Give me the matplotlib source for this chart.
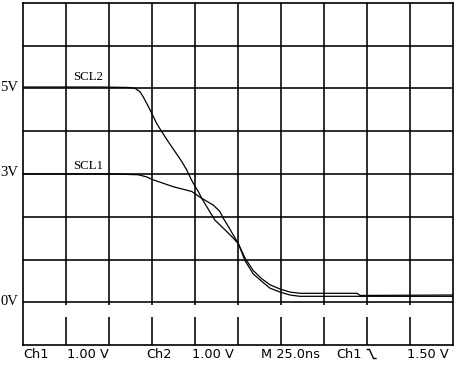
import matplotlib
matplotlib.use("Agg")
import matplotlib.pyplot as plt
from matplotlib.lines import Line2D

# ---- data (time in ns, voltage in V) ----
scl2_t = [0, 44.8, 61.0, 65.1, 68.0, 69.9, 71.9, 74.8, 77.7, 80.6, 84.5, 88.4, 92.3,
          95.2, 97.1, 99.0, 101.9, 103.9, 108.7, 111.6, 116.5, 121.3, 125.2, 129.1,
          133.9, 138.8, 143.6, 149.4, 155.2, 161.0, 194.2, 196.0, 250.0]
scl2_v = [5.03, 5.03, 5.02, 5.0, 4.92, 4.80, 4.65, 4.42, 4.18, 3.99, 3.75, 3.52, 3.29,
          3.09, 2.93, 2.78, 2.59, 2.43, 2.11, 1.92, 1.73, 1.54, 1.37, 0.97,
          0.66, 0.49, 0.33, 0.24, 0.17, 0.14, 0.14, 0.14, 0.14]

scl1_t = [0, 50.6, 67.0, 71.9, 75.8, 81.6, 87.4, 93.2, 98.1, 103.9, 110.7, 114.5, 116.5,
          119.4, 122.3, 125.2, 129.1, 133.9, 138.8, 143.6, 149.4, 155.2, 161.0, 194.2,
          196.0, 250.0]
scl1_v = [3.0, 3.0, 2.98, 2.93, 2.86, 2.78, 2.70, 2.64, 2.59, 2.43, 2.27, 2.12, 1.96,
          1.77, 1.57, 1.37, 1.03, 0.74, 0.55, 0.41, 0.31, 0.24, 0.21, 0.21,
          0.16, 0.17]

volt_labels = ["5V", "3V", "0V"]
volt_levels = [5, 3, 0]
trace_names = ["SCL2", "SCL1"]
status_texts = ["Ch1", "1.00 V", "Ch2", "1.00 V", "M 25.0ns", "Ch1", "1.50 V"]
status_x = [23, 67, 146, 192, 261, 336, 407]

W, H = 457, 367
fig = plt.figure(figsize=(W / 100, H / 100), dpi=100)
fig.patch.set_facecolor("white")

def fx(x):
    return x / W

def fy(y):
    return 1 - y / H

left, right, top, bottom = 23, 453, 2.7, 345.1
ax = fig.add_axes([fx(left), fy(bottom), (right - left) / W, (bottom - top) / H])
ax.set_xlim(0, 250)
ax.set_ylim(-1, 7)
ax.set_xticks([])
ax.set_yticks([])
for s in ax.spines.values():
    s.set_color("black")
    s.set_linewidth(1.2)

grid_lw = 1.15
for v in range(0, 7):
    ax.axhline(v, color="black", lw=grid_lw, zorder=1)
for i in range(1, 10):
    t = i * 25
    ax.vlines(t, -0.07, 7, color="black", lw=grid_lw, zorder=1)
    ax.vlines(t, -1, -0.35, color="black", lw=grid_lw, zorder=1)

ax.plot(scl2_t, scl2_v, color="black", lw=0.9, zorder=3)
ax.plot(scl1_t, scl1_v, color="black", lw=0.9, zorder=3)

# voltage labels (serif)
for lab, lev in zip(volt_labels, volt_levels):
    ypix = 302.3 - lev * 42.8
    fig.text(fx(18.5), fy(ypix - 1), lab, ha="right", va="center",
             fontsize=10.5, family="Liberation Serif")

fig.text(fx(73), fy(77), trace_names[0], ha="left", va="center",
         fontsize=9.3, family="Liberation Serif")
fig.text(fx(73), fy(166), trace_names[1], ha="left", va="center",
         fontsize=9.3, family="Liberation Serif")

# status bar
ty = 354
for txt, x in zip(status_texts, status_x):
    fig.text(fx(x), fy(ty), txt, ha="left", va="center", fontsize=9.3,
             family="DejaVu Sans")

# falling-edge trigger symbol
sx = [367.3, 369.5, 373.5, 376.0]
sy = [ty - 4.5, ty - 4.5, ty + 4.5, ty + 4.5]
fig.add_artist(Line2D([fx(v) for v in sx], [fy(v) for v in sy],
                      transform=fig.transFigure, color="black", lw=1.0))

fig.savefig("out.png", dpi=100, facecolor="white")
